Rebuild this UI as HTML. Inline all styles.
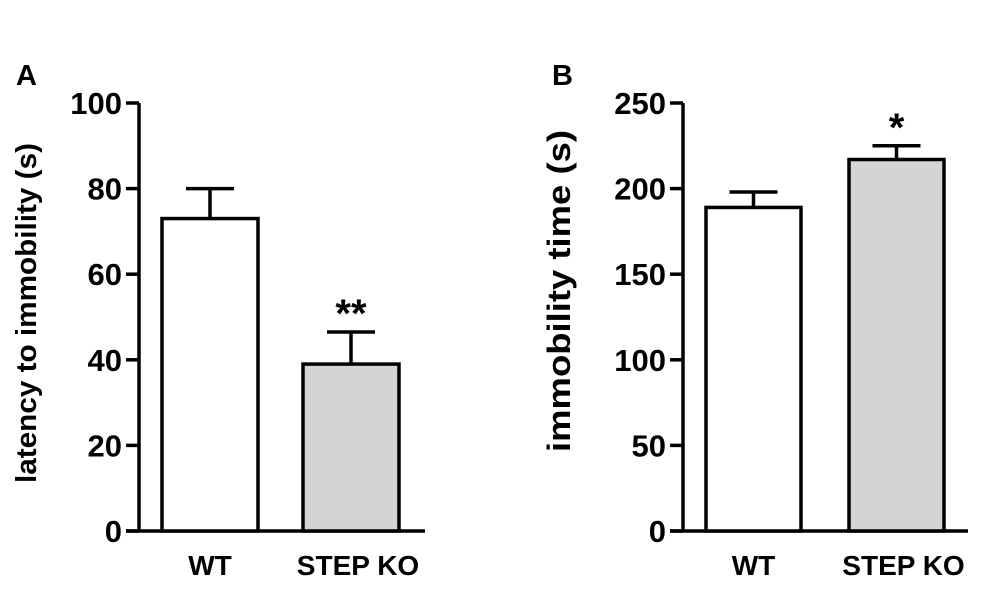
<!DOCTYPE html>
<html><head><meta charset="utf-8"><style>
body{margin:0;background:#fff}
svg text{font-family:"Liberation Sans",Arial,sans-serif;font-weight:bold;fill:#000}
</style></head><body>
<svg width="981" height="586" viewBox="0 0 981 586">
<g id="gA"></g>
<g id="gB"></g>
</svg>
<script>
const categories=["WT","STEP KO"];
const valuesA=[73,39];
const errorsA=[7,7.5];
const ticksA=[0,20,40,60,80,100];
const sigA=["","**"];
const valuesB=[189,217];
const errorsB=[9,8];
const ticksB=[0,50,100,150,200,250];
const sigB=["","*"];
const NS="http://www.w3.org/2000/svg";
function mk(p,t,a){const e=document.createElementNS(NS,t);for(const k in a)e.setAttribute(k,a[k]);p.appendChild(e);return e;}
function draw(g,cfg){
  const y=v=>cfg.y0-(v/cfg.max)*(cfg.y0-cfg.yTop);
  const ax=mk(g,'line',{x1:cfg.ax,y1:cfg.yTop,x2:cfg.ax,y2:cfg.y0,stroke:'#000','stroke-width':3.5});
  
  
  const xa=mk(g,'line',{x1:cfg.ax-13,y1:cfg.y0,x2:cfg.xEnd,y2:cfg.y0,stroke:'#000','stroke-width':3.5});
  
  
  cfg.ticks.forEach(t=>{
    const l=mk(g,'line',{x1:cfg.ax-13,y1:y(t),x2:cfg.ax,y2:y(t),stroke:'#000','stroke-width':3.5});
    
    
    const tx=mk(g,'text',{x:cfg.ax-17,y:y(t)+11,'text-anchor':'end','font-size':31});
    tx.textContent=t;
    
    
  });
  categories.forEach((c,i)=>{
    const x0=cfg.barX[i],w=cfg.barW,top=y(cfg.vals[i]),et=y(cfg.vals[i]+cfg.errs[i]),cx=x0+w/2;
    const el=mk(g,'line',{x1:cx,y1:et,x2:cx,y2:top,stroke:'#000','stroke-width':3.5});
    
    
    const cap=mk(g,'line',{x1:cx-24,y1:et,x2:cx+24,y2:et,stroke:'#000','stroke-width':3.5});
    
    
    const r=mk(g,'rect',{x:x0,y:top,width:w,height:cfg.y0-top,fill:i?'#d4d4d4':'#fff',stroke:'#000','stroke-width':3.5});
    
    
    const lb=mk(g,'text',{x:cx+(i?7:0),y:cfg.y0+44,'text-anchor':'middle','font-size':28});
    lb.textContent=c;
    
    
    if(cfg.sig[i]){
      const s=mk(g,'text',{x:cx,y:et-5,'text-anchor':'middle','font-size':40});
      s.textContent=cfg.sig[i];
      
      
    }
  });
  const yt=mk(g,'text',{x:0,y:0,'text-anchor':'middle','font-size':cfg.titleSize,textLength:cfg.titleLen,lengthAdjust:'spacingAndGlyphs',transform:`translate(${cfg.titleX},${cfg.titleY}) rotate(-90)`});
  yt.textContent=cfg.title;
  
  
  const pl=mk(g,'text',{x:cfg.panelX,y:85,'font-size':29});
  pl.textContent=cfg.panel;
  
  
}
draw(document.getElementById('gA'),{ax:139,y0:531,yTop:103,max:100,xEnd:425,ticks:ticksA,vals:valuesA,errs:errorsA,sig:sigA,barX:[162,303],barW:96,title:'latency to immobility (s)',titleX:36,titleY:313,titleSize:29,titleLen:340,panel:'A',panelX:16});
draw(document.getElementById('gB'),{ax:683,y0:531,yTop:103,max:250,xEnd:968,ticks:ticksB,vals:valuesB,errs:errorsB,sig:sigB,barX:[706,849],barW:95,title:'immobility time (s)',titleX:570,titleY:291,titleSize:32,titleLen:322,panel:'B',panelX:552});
</script>
</body></html>
